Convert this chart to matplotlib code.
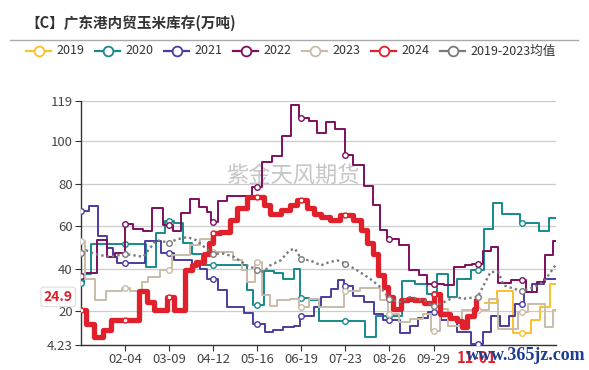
import numpy as np
import matplotlib
matplotlib.use('Agg')
import matplotlib.pyplot as plt
from matplotlib.lines import Line2D

plt.rcParams['font.family'] = ['Noto Sans CJK SC', 'DejaVu Sans']

# 数据：日序号(01-01 = 0)及阶梯变化点
days_2019 = [312, 321, 333, 347, 354, 362]
vals_2019 = [24, 29.5, 10, 16, 22, 33]

days_2020 = [0, 2, 8, 50, 58, 65, 72, 79, 86, 93, 128, 133, 141, 149, 156, 164, 169, 176,
             184, 219, 228, 248, 258, 267, 275, 283, 290, 301, 311, 318, 325, 339, 353, 361]
vals_2020 = [33.5, 37.8, 51.6, 41, 57, 62.5, 61.7, 52.3, 47.2, 42, 30, 23, 39, 38, 35.4, 40, 26.5, 25.2,
             15.5, 7.9, 18, 34.3, 33, 28.3, 37.8, 26.7, 35.5, 39.3, 59, 71, 66, 61.4, 58, 64]

days_2021 = [0, 6, 13, 20, 25, 28, 49, 62, 72, 86, 92, 97, 106, 113, 126, 133, 142, 148,
             156, 164, 169, 180, 185, 193, 198, 203, 210, 218, 226, 233, 246, 254, 260, 268,
             278, 290, 301, 310, 316, 323, 330, 335, 342, 348, 357]
vals_2021 = [67.4, 69.8, 55.6, 49.7, 45.5, 43, 53.3, 47.5, 44, 41.7, 40.2, 35.5, 30, 22, 19.5, 13.9, 10.3, 11.5,
             12.6, 13.4, 18, 22.3, 26.7, 30.7, 34.6, 31.8, 27.5, 24.4, 19, 16.2, 10, 13.4, 16.7, 19.7,
             15.8, 10.3, 4.8, 10.3, 18, 13.4, 18, 23.6, 29, 33, 35.5]

days_2022 = [0, 3, 12, 20, 26, 34, 40, 48, 55, 63, 71, 77, 84, 91, 97, 100, 106, 113, 132,
             140, 147, 155, 162, 168, 176, 182, 189, 196, 204, 210, 218, 225, 231, 236, 245, 253,
             261, 267, 280, 288, 296, 302, 310, 316, 322, 332, 343, 352, 358, 364]
vals_2022 = [36.7, 38, 53.5, 45.7, 47.6, 61, 58.6, 58, 68.5, 60.5, 58, 66.5, 72.8, 69.3, 67, 62.2, 72, 74.5, 78.7,
             90.5, 93.2, 102.7, 117.3, 111, 109.4, 104, 109, 105.8, 93.7, 89, 79, 70, 58.3, 54.3, 51.2, 39.4,
             37, 33, 32.3, 41, 41.7, 42.5, 48.5, 50.4, 33.4, 34.6, 29, 33.8, 46.5, 53]

days_2023 = [0, 3, 11, 19, 32, 38, 47, 52, 61, 70, 84, 92, 100, 117, 124, 128, 134, 140, 146,
             151, 161, 168, 176, 184, 203, 215, 231, 237, 245, 254, 264, 270, 277, 283, 294,
             315, 322, 337, 345, 358, 364]
vals_2023 = [53, 35.4, 25.5, 29.6, 31.2, 29.6, 33.9, 36.2, 39.4, 46.5, 51.2, 54, 48, 44, 39.3, 34, 43.3, 27.6, 22.8,
             25.2, 26, 22, 26, 22, 29.6, 31.2, 25.2, 19, 15, 16.5, 19, 11, 21.3, 13, 20.5,
             26, 11.8, 19.7, 23.6, 12.6, 20.5]

days_2024 = [0, 4, 10, 17, 23, 45, 51, 56, 66, 72, 80, 86, 89, 95, 99, 102, 107, 115, 120, 128,
             141, 146, 154, 161, 167, 174, 180, 185, 192, 200, 210, 216, 221, 225, 229, 234, 237,
             241, 247, 252, 257, 265, 272, 277, 285, 290, 294, 298, 303, 305]
vals_2024 = [20.8, 14, 8, 11.5, 15.8, 29.5, 24.5, 20.5, 27, 20.5, 39.5, 41.7, 43.3, 47, 52, 56.7, 57.5, 63, 68.5, 74,
             70, 66, 67.7, 70, 72.4, 68.5, 66, 64.6, 63, 65.4, 63, 58.3, 52, 47.2, 37, 31.5, 26.8,
             21.3, 25.2, 26, 25.2, 24, 28.3, 19, 17, 15.7, 12.6, 18, 21.3, 24.9]

days_avg = [0, 4, 10, 15, 22, 34, 40, 48, 53, 58, 68, 74, 82, 89, 95, 102, 110, 118, 128, 136,
            141, 146, 154, 161, 165, 170, 177, 185, 192, 198, 204, 213, 223, 231, 238, 246, 254,
            265, 272, 280, 288, 295, 306, 316, 322, 326, 334, 340, 350, 357, 366]
vals_avg = [47.6, 48.8, 47.2, 46.5, 45.7, 47, 46.5, 45.7, 49.6, 53.5, 52.4, 53.9, 55, 53.5, 50.4, 47.2, 47.2, 45.7, 41.7, 39.7,
            38.6, 41.7, 44, 48.8, 49.6, 44.6, 44, 41.7, 43.3, 44, 42.5, 39.4, 35.4, 31.5, 26, 24.4, 26.8,
            25.2, 22.4, 24.4, 26.8, 26, 26.8, 38.6, 38.6, 32.3, 30.7, 29.6, 31.5, 33.9, 41.7]

x_ticks = [34, 68, 102, 136, 170, 204, 238, 272]
x_labels = ['02-04', '03-09', '04-12', '05-16', '06-19', '07-23', '08-26', '09-29']
y_ticks = [4.23, 20, 40, 60, 80, 100, 119]
y_labels = ['4.23', '20', '40', '60', '80', '100', '119']
names = ['2019', '2020', '2021', '2022', '2023', '2024', '2019-2023均值']
colors = ['#FBC02D', '#168A8C', '#4C3C9E', '#7D0F5F', '#C9BCA9', '#E0202A', '#7a7a7a']
last_day = 366
cur_day, cur_val = 305, 24.9


def expand(days, vals, last):
    # 阶梯数据按日展开
    d = np.arange(days[0], last + 1)
    idx = np.searchsorted(days, d, side='right') - 1
    return d, np.asarray(vals)[idx]


W, H = 589, 370
fig = plt.figure(figsize=(W / 100, H / 100), dpi=100)
ax = fig.add_axes([81 / W, 1 - 345 / H, 475 / W, 244 / H])

steps = [(days_2019, vals_2019, last_day), (days_2020, vals_2020, last_day),
         (days_2021, vals_2021, last_day), (days_2022, vals_2022, last_day),
         (days_2023, vals_2023, last_day), (days_2024, vals_2024, cur_day)]
for i, (dd, vv, end) in enumerate(steps):
    d, v = expand(dd, vv, end)
    lw = 3.8 if i == 5 else 1.4
    ms = 3.5 if i == 5 else 4
    ax.plot(d, v, drawstyle='steps-post', color=colors[i], lw=lw, zorder=3 + i,
            marker='o', ms=ms, mfc='white', mec=colors[i], mew=1,
            markevery=list(d % 34 == 0), solid_joinstyle='round')

d_avg = np.asarray(days_avg)
ax.plot(d_avg, vals_avg, color=colors[6], lw=1.7, ls=(0, (1, 1.3)), zorder=10,
        marker='o', ms=4, mfc='white', mec=colors[6], mew=1,
        markevery=list(d_avg % 34 == 0))

ax.set_xlim(0, 366.5)
ax.set_ylim(4.23, 119)
ax.set_xticks(x_ticks)
ax.set_xticklabels(x_labels)
ax.set_yticks(y_ticks)
ax.set_yticklabels(y_labels)
ax.grid(axis='y', color='#cccccc', lw=0.9, zorder=0)
for s in ['top', 'right']:
    ax.spines[s].set_visible(False)
for s in ['left', 'bottom']:
    ax.spines[s].set_color('#333333')
    ax.spines[s].set_linewidth(1)
ax.tick_params(length=4, color='#333333', labelcolor='#444444', labelsize=9.5, pad=2)

# 水印
ax.text(0.445, 0.69, '紫金天风期货', transform=ax.transAxes, ha='center', va='center',
        fontsize=16, color='#c6c6c6', zorder=1)

# 当前值标签
ax.annotate('24.9', xy=(-0.048, cur_val), xycoords=ax.get_yaxis_transform(),
            xytext=(0, 3), textcoords='offset points', ha='center', va='center',
            fontsize=10, fontweight='bold', color='#E0202A', annotation_clip=False, zorder=20,
            bbox=dict(boxstyle='round,pad=0.2', fc='white', ec='#dddddd', lw=0.8))
ax.text(cur_day, -0.053, '11-01', transform=ax.get_xaxis_transform(), ha='center', va='center',
        fontsize=10.5, fontweight='bold', color='#E0202A', clip_on=False, zorder=20)

# 标题与图例
fig.text(25 / W, 1 - 23 / H, '【C】广东港内贸玉米库存(万吨)', fontsize=10.5, fontweight='bold',
         color='#333333', va='center', ha='left')
fig.add_artist(Line2D([10 / W, 578 / W], [1 - 40 / H, 1 - 40 / H], transform=fig.transFigure,
                      color='#aaaaaa', lw=1))
ly = 1 - 51 / H
for i, (nm, c) in enumerate(zip(names, colors)):
    x0 = 26 + 69 * i
    fig.add_artist(Line2D([x0 / W, (x0 + 25) / W], [ly, ly], transform=fig.transFigure,
                          color=c, lw=1.6))
    fig.add_artist(Line2D([(x0 + 12.5) / W], [ly], transform=fig.transFigure, marker='o',
                          ms=7, mfc='white', mec=c, mew=1.3))
    fig.text((x0 + 30) / W, ly, nm, fontsize=9, color='#333333', va='center', ha='left')

fig.text(466 / W, 1 - 355 / H, 'www.365jz.com', fontsize=13, fontweight='bold',
         family=['Liberation Serif', 'DejaVu Serif'], color='#1d3d8f', va='center', ha='left')

fig.savefig('out.png', dpi=100)
